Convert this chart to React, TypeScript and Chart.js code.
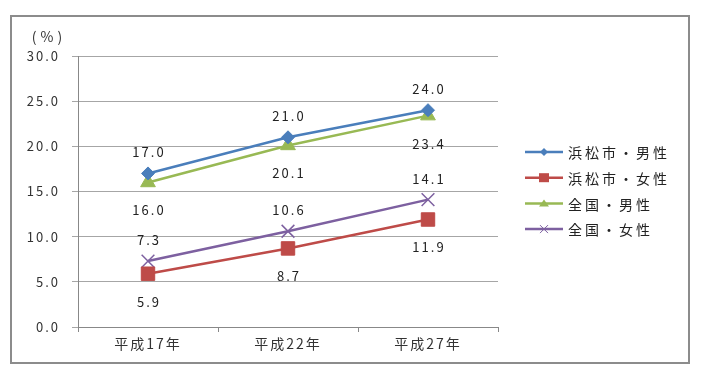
import React, { useEffect, useRef } from "react";
import { Chart, registerables } from "chart.js";

Chart.register(...registerables);

const categories = ["平成17年", "平成22年", "平成27年"];
const seriesNames = ["浜松市・男性", "浜松市・女性", "全国・男性", "全国・女性"];
const hamamatsuMale = [17.0, 21.0, 24.0];
const hamamatsuFemale = [5.9, 8.7, 11.9];
const zenkokuMale = [16.0, 20.1, 23.4];
const zenkokuFemale = [7.3, 10.6, 14.1];
const yTicks = [0, 5, 10, 15, 20, 25, 30];
const unitLabel = "(%)";

const colors = ["#4A7EBB", "#BE4B48", "#98B954", "#7D60A0"];
const markers = ["rectRot", "rect", "triangle", "crossRot"];
const markerSizes = [6.5, 9.5, 8.5, 9];
const labelSide = [-1, 1, 1, -1];

const FONT = "'Noto Sans CJK JP', 'Noto Sans', sans-serif";

const extrasPlugin = {
  id: "extras",
  beforeDraw(chart: any) {
    (chart.ctx as any).letterSpacing = "2px";
  },
  afterDatasetsDraw(chart: any) {
    const ctx = chart.ctx;
    ctx.save();
    (ctx as any).letterSpacing = "2px";
    // data labels
    ctx.font = `13px ${FONT}`;
    ctx.fillStyle = "#222";
    ctx.textAlign = "center";
    ctx.textBaseline = "middle";
    chart.data.datasets.forEach((ds: any, i: number) => {
      const meta = chart.getDatasetMeta(i);
      meta.data.forEach((pt: any, j: number) => {
        const off = labelSide[i] < 0 ? -21 : 28;
        ctx.fillText(Number(ds.data[j]).toFixed(1), pt.x + 1, pt.y + off);
      });
    });
    // unit label
    (ctx as any).letterSpacing = "4px";
    ctx.font = `14px ${FONT}`;
    ctx.fillStyle = "#333";
    ctx.fillText(unitLabel, 49, 37);
    // legend
    const lx = 525;
    const ly = 152;
    const gap = 25.7;
    seriesNames.forEach((name, i) => {
      const y = ly + i * gap;
      ctx.strokeStyle = colors[i];
      ctx.lineWidth = 2.5;
      ctx.beginPath();
      ctx.moveTo(lx, y);
      ctx.lineTo(lx + 38, y);
      ctx.stroke();
      const style = markers[i];
      ctx.fillStyle = colors[i];
      ctx.strokeStyle = colors[i];
      ctx.lineWidth = 1;
      const cx = lx + 19;
      if (style === "rectRot") {
        ctx.beginPath();
        ctx.moveTo(cx, y - 4);
        ctx.lineTo(cx + 4, y);
        ctx.lineTo(cx, y + 4);
        ctx.lineTo(cx - 4, y);
        ctx.closePath();
        ctx.fill();
      } else if (style === "rect") {
        ctx.fillRect(cx - 5, y - 4.5, 10, 9);
      } else if (style === "triangle") {
        ctx.beginPath();
        ctx.moveTo(cx, y - 4);
        ctx.lineTo(cx + 5, y + 3);
        ctx.lineTo(cx - 5, y + 3);
        ctx.closePath();
        ctx.fill();
      } else {
        ctx.lineWidth = 1;
        ctx.beginPath();
        ctx.moveTo(cx - 4, y - 4);
        ctx.lineTo(cx + 4, y + 4);
        ctx.moveTo(cx + 4, y - 4);
        ctx.lineTo(cx - 4, y + 4);
        ctx.stroke();
      }
      (ctx as any).letterSpacing = "3px";
      ctx.font = `14px ${FONT}`;
      ctx.fillStyle = "#222";
      ctx.textAlign = "left";
      ctx.fillText(name, lx + 43, y + 1);
      (ctx as any).letterSpacing = "0px";
    });
    // outer border
    ctx.strokeStyle = "#8C8C8C";
    ctx.lineWidth = 2;
    ctx.strokeRect(11, 16, 678, 347);
    ctx.restore();
    // x-axis (drawn after, z=1) uses wider spacing
    (ctx as any).letterSpacing = "3px";
  },
};

export default function App() {
  const ref = useRef<HTMLCanvasElement | null>(null);
  useEffect(() => {
    if (!ref.current) return;
    const series = [hamamatsuMale, hamamatsuFemale, zenkokuMale, zenkokuFemale];
    const chart = new Chart(ref.current, {
      type: "line",
      data: {
        labels: categories,
        datasets: series.map((d, i) => ({
          label: seriesNames[i],
          data: d,
          borderColor: colors[i],
          backgroundColor: colors[i],
          borderWidth: 2.5,
          pointStyle: markers[i] as any,
          pointRadius: markerSizes[i],
          pointBorderWidth: markers[i] === "crossRot" ? 1.5 : 1,
          pointBorderColor: colors[i],
          pointBackgroundColor: colors[i],
          tension: 0,
          fill: false,
        })),
      },
      options: {
        animation: false,
        responsive: false,
        maintainAspectRatio: false,
        layout: { padding: { left: 10, top: 56, right: 212, bottom: 0 } },
        plugins: {
          legend: { display: false },
          tooltip: { enabled: false },
        },
        scales: {
          x: {
            type: "category",
            offset: true,
            z: 1,
            grid: {
              display: true,
              offset: true,
              drawOnChartArea: false,
              drawTicks: true,
              tickLength: 5,
              color: "#888",
            },
            border: { display: true, color: "#888", width: 1 },
            ticks: {
              color: "#333",
              font: { family: FONT, size: 14 },
              padding: 3,
            },
            afterFit(scale: any) {
              scale.height = 63;
            },
          },
          y: {
            min: 0,
            max: 30,
            afterBuildTicks(scale: any) {
              scale.ticks = yTicks.map((v) => ({ value: v }));
            },
            grid: {
              color: "#A6A6A6",
              lineWidth: 1,
              drawTicks: true,
              tickLength: 6,
            },
            border: { display: true, color: "#888", width: 1 },
            ticks: {
              color: "#333",
              font: { family: FONT, size: 13 },
              padding: 12,
              callback: (v: any) => Number(v).toFixed(1),
            },
            afterFit(scale: any) {
              scale.width = 68;
            },
          },
        },
      },
      plugins: [extrasPlugin],
    });
    return () => chart.destroy();
  }, []);
  return (
    <div style={{ position: "absolute", left: 0, top: 0, width: 710, height: 390, background: "#fff" }}>
      <canvas ref={ref} width={710} height={390} style={{ width: 710, height: 390 }} />
    </div>
  );
}
